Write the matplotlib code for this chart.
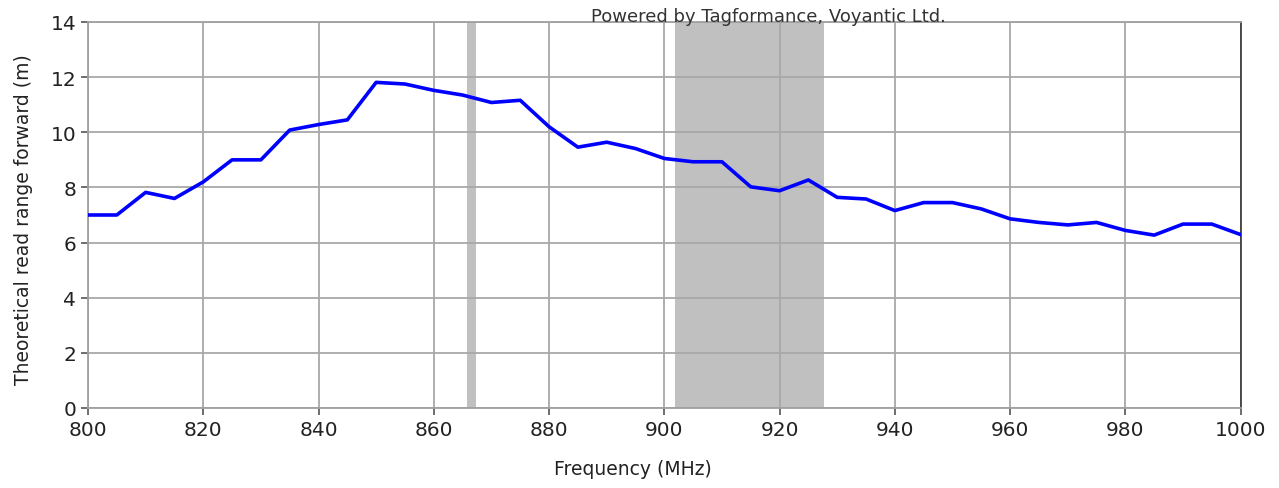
import numpy as np
import matplotlib.pyplot as plt

# frequency sweep (MHz) and read range (m)
freq = np.arange(800, 1001, 5)
read_range = [7.0, 7.0, 7.82, 7.6, 8.2, 9.0, 9.0, 10.08, 10.28, 10.45,
              11.81, 11.75, 11.52, 11.35, 11.08, 11.16, 10.2, 9.46, 9.64, 9.41,
              9.05, 8.93, 8.93, 8.02, 7.88, 8.27, 7.64, 7.58, 7.16, 7.45,
              7.45, 7.22, 6.86, 6.73, 6.64, 6.73, 6.44, 6.27, 6.67, 6.67, 6.29]

# regulatory bands shaded in grey
bands = [(865.7, 867.3), (901.8, 927.7)]

fig = plt.figure(figsize=(12.79, 4.89), dpi=100)
ax = fig.add_axes([0.0688, 0.1636, 0.9012, 0.7894])

for lo, hi in bands:
    ax.axvspan(lo, hi, color='#c0c0c0', lw=0, zorder=0.2)

ax.plot(freq, read_range, color='#0000ff', lw=2.6, zorder=3)

ax.set_xlim(800, 1000)
ax.set_ylim(0, 14)
ax.set_xticks(np.arange(800, 1001, 20))
ax.set_yticks(np.arange(0, 15, 2))
ax.set_axisbelow(True)
ax.grid(True, color='#a8a8a8', lw=1.3)

for s in ['left', 'bottom', 'top']:
    ax.spines[s].set_color('#a0a0a0')
    ax.spines[s].set_linewidth(1.3)
ax.spines['right'].set_color('#404040')
ax.spines['right'].set_linewidth(1.3)

ax.tick_params(axis='both', labelsize=14.5, colors='#222222', length=5, width=1.2)
ax.tick_params(axis='both', color='#555555')

ax.set_xlabel('Frequency (MHz)', fontsize=13.5, color='#222222')
ax.set_ylabel('Theoretical read range forward (m)', fontsize=13.5, color='#222222')
# label positions in axes coords (source places them slightly off-centre)
ax.xaxis.set_label_coords(0.473, -0.133)
ax.yaxis.set_label_coords(-0.048, 0.49)

fig.text(0.601, 0.966, 'Powered by Tagformance, Voyantic Ltd.', fontsize=13,
         ha='center', va='center', color='#333333')

plt.savefig('out.png', dpi=100)
